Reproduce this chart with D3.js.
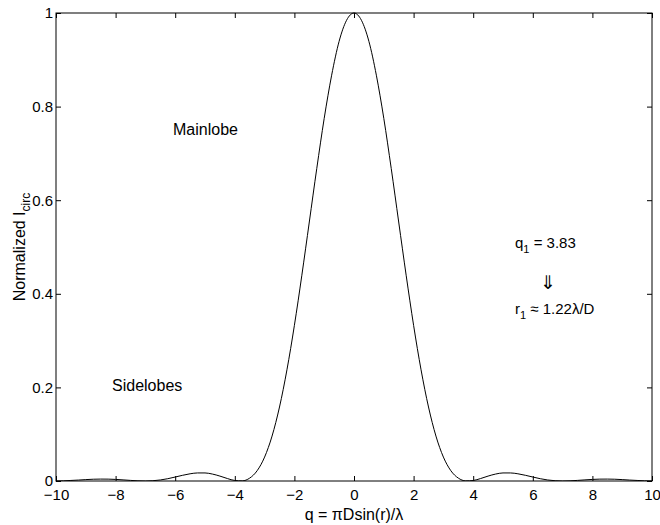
<!DOCTYPE html>
<html>
<head>
<meta charset="utf-8">
<script src="https://cdn.jsdelivr.net/npm/d3@7"></script>
<style>
  body { margin: 0; background: #fff; }
  svg { display: block; font-family: "Liberation Sans", Arial, Helvetica, sans-serif; }
  .axis path, .axis line { stroke: #000; stroke-width: 1; }
  .axis text { font-size: 15px; fill: #000; }
</style>
</head>
<body>
<svg id="chart" width="660" height="525"></svg>
<script>
"use strict";

// q values along the x axis
var qValues = [
  -10, -9.75, -9.5, -9.25, -9, -8.75, -8.5, -8.25, -8, -7.75, -7.5, -7.25,
  -7, -6.75, -6.5, -6.25, -6, -5.75, -5.5, -5.25, -5, -4.75, -4.5, -4.25,
  -4, -3.75, -3.5, -3.25, -3, -2.75, -2.5, -2.25, -2, -1.75, -1.5, -1.25,
  -1, -0.75, -0.5, -0.25, 0, 0.25, 0.5, 0.75, 1, 1.25, 1.5, 1.75,
  2, 2.25, 2.5, 2.75, 3, 3.25, 3.5, 3.75, 4, 4.25, 4.5, 4.75,
  5, 5.25, 5.5, 5.75, 6, 6.25, 6.5, 6.75, 7, 7.25, 7.5, 7.75,
  8, 8.25, 8.5, 8.75, 9, 9.25, 9.5, 9.75, 10
];

// normalized intensity
var intensity = [
  0.0001, 0.0004, 0.0012, 0.0020, 0.0030, 0.0038, 0.0041, 0.0040, 0.0034, 0.0024, 0.0013, 0.0004,
  0.0000, 0.0006, 0.0022, 0.0049, 0.0085, 0.0122, 0.0154, 0.0172, 0.0172, 0.0148, 0.0105, 0.0053,
  0.0011, 0.0003, 0.0062, 0.0220, 0.0511, 0.0960, 0.1581, 0.2376, 0.3326, 0.4397, 0.5534, 0.6675,
  0.7748, 0.8671, 0.9394, 0.9844, 1.0000, 0.9844, 0.9394, 0.8671, 0.7748, 0.6675, 0.5534, 0.4397,
  0.3326, 0.2376, 0.1581, 0.0960, 0.0511, 0.0220, 0.0062, 0.0003, 0.0011, 0.0053, 0.0105, 0.0148,
  0.0172, 0.0172, 0.0154, 0.0122, 0.0085, 0.0049, 0.0022, 0.0006, 0.0000, 0.0004, 0.0013, 0.0024,
  0.0034, 0.0040, 0.0041, 0.0038, 0.0030, 0.0020, 0.0012, 0.0004, 0.0001
];

var xTicks = [-10, -8, -6, -4, -2, 0, 2, 4, 6, 8, 10];
var yTicks = [0, 0.2, 0.4, 0.6, 0.8, 1];

var svg = d3.select("#chart");
var margin = {top: 13, right: 8, bottom: 44, left: 56};
var width = 660 - margin.left - margin.right;
var height = 525 - margin.top - margin.bottom;

var x = d3.scaleLinear().domain([-10, 10]).range([margin.left, margin.left + width]);
var y = d3.scaleLinear().domain([0, 1]).range([margin.top + height, margin.top]);

var data = qValues.map(function(q, i) { return {q: q, v: intensity[i]}; });

svg.append("rect").attr("width", 660).attr("height", 525).attr("fill", "#fff");

/*
  axes, ticks pointing inward on all four sides
*/
var set_axes = function() {
  var fmt = d3.format("~g");
  svg.append("g").attr("class", "axis")
    .attr("transform", "translate(0," + (margin.top + height) + ")")
    .call(d3.axisBottom(x).tickValues(xTicks).tickFormat(fmt).tickSizeInner(-5).tickSizeOuter(0).tickPadding(8));
  svg.append("g").attr("class", "axis")
    .attr("transform", "translate(0," + margin.top + ")")
    .call(d3.axisTop(x).tickValues(xTicks).tickSizeInner(-5).tickSizeOuter(0).tickFormat(""));
  svg.append("g").attr("class", "axis")
    .attr("transform", "translate(" + margin.left + ",0)")
    .call(d3.axisLeft(y).tickValues(yTicks).tickFormat(fmt).tickSizeInner(-5).tickSizeOuter(0).tickPadding(3));
  svg.append("g").attr("class", "axis")
    .attr("transform", "translate(" + (margin.left + width) + ",0)")
    .call(d3.axisRight(y).tickValues(yTicks).tickSizeInner(-5).tickSizeOuter(0).tickFormat(""));
  svg.selectAll(".axis .domain").remove();
  svg.append("rect")
    .attr("x", margin.left).attr("y", margin.top)
    .attr("width", width).attr("height", height)
    .attr("fill", "none").attr("stroke", "#000").attr("stroke-width", 1);
};

var set_curve = function() {
  svg.append("clipPath").attr("id", "clip")
    .append("rect")
    .attr("x", margin.left).attr("y", margin.top - 1)
    .attr("width", width).attr("height", height + 1);
  var line = d3.line()
    .x(function(d) { return x(d.q); })
    .y(function(d) { return y(d.v); })
    .curve(d3.curveMonotoneX);
  svg.append("path")
    .datum(data)
    .attr("clip-path", "url(#clip)")
    .attr("fill", "none")
    .attr("stroke", "#000")
    .attr("stroke-width", 1)
    .attr("d", line);
};

var set_labels = function() {
  // x label
  svg.append("text")
    .attr("x", x(0)).attr("y", 520)
    .attr("text-anchor", "middle")
    .style("font-size", "16px")
    .text("q = \u03c0Dsin(r)/\u03bb");

  // y label with subscript
  var yl = svg.append("text")
    .attr("transform", "translate(25," + (margin.top + height / 2) + ") rotate(-90)")
    .attr("text-anchor", "middle")
    .style("font-size", "16px");
  yl.append("tspan").text("Normalized I");
  yl.append("tspan").attr("dy", 5).style("font-size", "12px").text("circ");

  svg.append("text")
    .attr("x", 173).attr("y", 135)
    .style("font-size", "16px")
    .text("Mainlobe");

  svg.append("text")
    .attr("x", 112).attr("y", 391)
    .style("font-size", "16px")
    .text("Sidelobes");

  var t1 = svg.append("text").attr("x", 515).attr("y", 248).style("font-size", "15px");
  t1.append("tspan").text("q");
  t1.append("tspan").attr("dy", 5).style("font-size", "11px").text("1");
  t1.append("tspan").attr("dy", -5).text(" = 3.83");

  svg.append("text")
    .attr("x", 548).attr("y", 289)
    .attr("text-anchor", "middle")
    .style("font-size", "19px")
    .text("\u21d3");

  var t2 = svg.append("text").attr("x", 515).attr("y", 314).style("font-size", "15px");
  t2.append("tspan").text("r");
  t2.append("tspan").attr("dy", 5).style("font-size", "11px").text("1");
  t2.append("tspan").attr("dy", -5).text(" \u2248 1.22\u03bb/D");
};

set_axes();
set_curve();
set_labels();
</script>
</body>
</html>
